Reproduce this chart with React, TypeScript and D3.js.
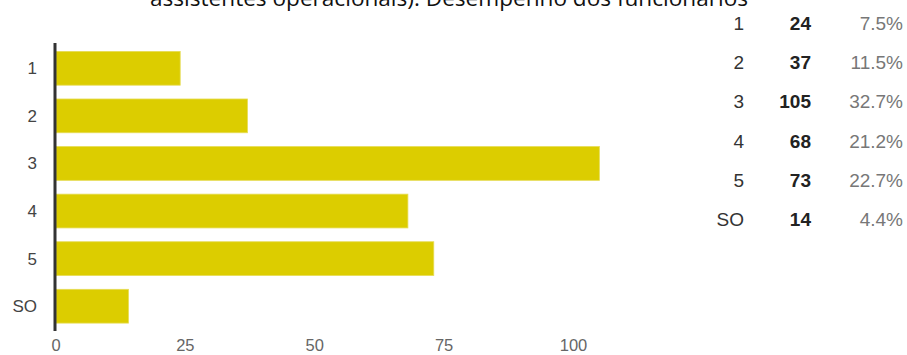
import React from "react";
import * as d3 from "d3";

const categories = ["1", "2", "3", "4", "5", "SO"];
const counts = [24, 37, 105, 68, 73, 14];
const percents = ["7.5%", "11.5%", "32.7%", "21.2%", "22.7%", "4.4%"];
const xTicks = [0, 25, 50, 75, 100];
const title = "assistentes operacionais): Desempenho dos funcionários";

const W = 907;
const H = 355;

export default function App() {
  const x = d3.scaleLinear().domain([0, 100]).range([56, 573.5]);
  const y = d3
    .scaleBand<string>()
    .domain(categories)
    .range([44.5, 330])
    .paddingInner(0.29)
    .paddingOuter(0.145);
  const rowY = d3.scalePoint<string>().domain(categories).range([30, 226]);
  const font = "'Liberation Sans', Arial, sans-serif";

  return (
    <svg
      width={W}
      height={H}
      style={{ position: "absolute", left: 0, top: 0, background: "#fff" }}
      fontFamily={font}
    >
      <text
        x={449}
        y={6}
        textAnchor="middle"
        fontSize={22}
        fill="#111"
        fontFamily="'Open Sans', 'Liberation Sans', sans-serif"
        textLength={598}
        lengthAdjust="spacingAndGlyphs"
      >
        {title}
      </text>

      {categories.map((c, i) => (
        <rect
          key={c}
          x={x(0)}
          y={y(c)!}
          width={x(counts[i]) - x(0)}
          height={y.bandwidth()}
          fill="#dccd00"
          stroke="#e6dc55"
          strokeWidth={0.8}
        />
      ))}

      <line x1={55} x2={55} y1={43} y2={331} stroke="#333" strokeWidth={3} />

      {categories.map((c) => (
        <text
          key={c}
          x={37}
          y={y(c)! + y.bandwidth() / 2 + 6}
          textAnchor="end"
          fontSize={17}
          fill="#444"
        >
          {c}
        </text>
      ))}

      {xTicks.map((t) => (
        <text
          key={t}
          x={x(t)}
          y={351}
          textAnchor="middle"
          fontSize={16.5}
          fill="#666"
        >
          {t}
        </text>
      ))}

      {categories.map((c, i) => (
        <g key={c}>
          <text x={744} y={rowY(c)!} textAnchor="end" fontSize={19} fill="#333">
            {c}
          </text>
          <text
            x={811}
            y={rowY(c)!}
            textAnchor="end"
            fontSize={19}
            fontWeight="bold"
            fill="#222"
          >
            {counts[i]}
          </text>
          <text x={903} y={rowY(c)!} textAnchor="end" fontSize={19} fill="#777">
            {percents[i]}
          </text>
        </g>
      ))}
    </svg>
  );
}
